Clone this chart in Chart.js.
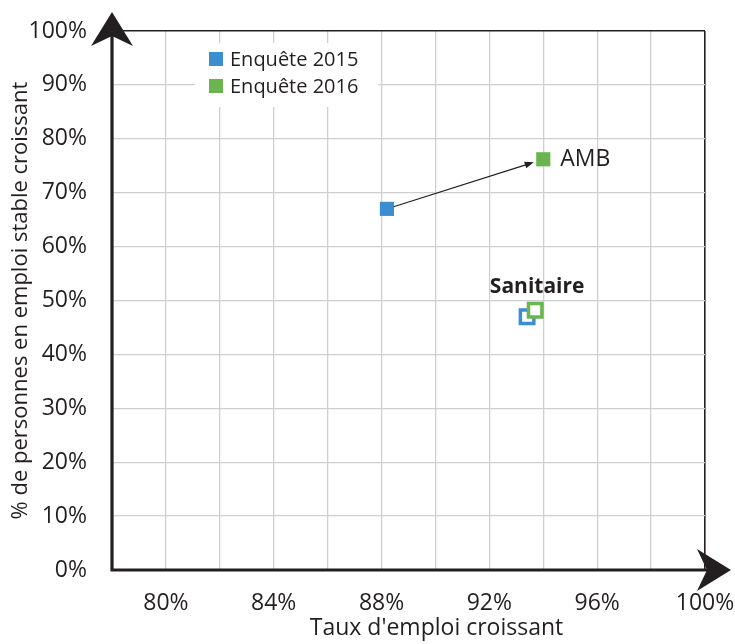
<!DOCTYPE html>
<html>
<head>
<meta charset="utf-8">
<script src="https://cdn.jsdelivr.net/npm/chart.js@4.4.1/dist/chart.umd.min.js"></script>
<style>
  html, body { margin: 0; padding: 0; background: #ffffff; }
  #wrap { width: 735px; height: 644px; position: relative; }
</style>
</head>
<body>
<div id="wrap"><canvas id="scatterChart"></canvas></div>
<script>
// Data
const categories = ['AMB', 'Sanitaire'];
const seriesNames = ['Enquête 2015', 'Enquête 2016'];
const x2015 = [88.2, 93.4];
const y2015 = [67.0, 47.0];
const x2016 = [94.0, 93.7];
const y2016 = [76.2, 48.2];
const hollow = [false, true];
const xTickLabels = [80, 84, 88, 92, 96, 100];

const blue = '#3b8fd1';
const green = '#6ab550';
const ink = '#231f20';
const gridGrey = '#cfcfcf';
const fontFamily = '"Open Sans", sans-serif';

function points(xs, ys) {
    return xs.map(function(x, i) { return { x: x, y: ys[i] }; });
}

function styleFor(color) {
    return {
        backgroundColor: hollow.map(function(h) { return h ? '#ffffff' : color; }),
        borderColor: color,
        borderWidth: hollow.map(function(h) { return h ? 3.5 : 0; }),
        pointRadius: hollow.map(function(h) { return h ? 9.5 : 10; }),
        pointHoverRadius: hollow.map(function(h) { return h ? 9.5 : 10; })
    };
}

// Custom drawing: axes with arrows, legend box, AMB arrow, labels
const decorPlugin = {
    id: 'decor',
    afterDraw: function(chart) {
        const ctx = chart.ctx;
        const xs = chart.scales.x, ys = chart.scales.y;
        const left = chart.chartArea.left, bottom = chart.chartArea.bottom;
        const right = chart.chartArea.right, top = chart.chartArea.top;

        ctx.save();
        // AMB movement arrow
        const p0 = { x: xs.getPixelForValue(x2015[0]), y: ys.getPixelForValue(y2015[0]) };
        const p1 = { x: xs.getPixelForValue(x2016[0]), y: ys.getPixelForValue(y2016[0]) };
        const ang = Math.atan2(p1.y - p0.y, p1.x - p0.x);
        const sx = p0.x + Math.cos(ang) * 7, sy = p0.y + Math.sin(ang) * 7;
        const ex = p1.x - Math.cos(ang) * 10, ey = p1.y - Math.sin(ang) * 10;
        ctx.strokeStyle = ink;
        ctx.fillStyle = ink;
        ctx.lineWidth = 1.2;
        ctx.beginPath();
        ctx.moveTo(sx, sy);
        ctx.lineTo(ex - Math.cos(ang) * 6, ey - Math.sin(ang) * 6);
        ctx.stroke();
        ctx.beginPath();
        ctx.moveTo(ex, ey);
        ctx.lineTo(ex - Math.cos(ang) * 9 + Math.sin(ang) * 3.5, ey - Math.sin(ang) * 9 - Math.cos(ang) * 3.5);
        ctx.lineTo(ex - Math.cos(ang) * 9 - Math.sin(ang) * 3.5, ey - Math.sin(ang) * 9 + Math.cos(ang) * 3.5);
        ctx.closePath();
        ctx.fill();

        // Category labels
        ctx.fillStyle = ink;
        ctx.textBaseline = 'middle';
        ctx.font = '23px ' + fontFamily;
        ctx.textAlign = 'left';
        ctx.fillText(categories[0], p1.x + 17, p1.y);
        const sanX = (xs.getPixelForValue(x2015[1]) + xs.getPixelForValue(x2016[1])) / 2;
        const sanY = ys.getPixelForValue(y2016[1]);
        ctx.font = 'bold 21px ' + fontFamily;
        ctx.textAlign = 'center';
        ctx.fillText(categories[1], sanX + 6, sanY - 23);

        // Legend box inside the plot
        ctx.fillStyle = '#ffffff';
        ctx.fillRect(left + 83, top + 12, 183, 64);
        const colors = [blue, green];
        ctx.font = '20px ' + fontFamily;
        ctx.textAlign = 'left';
        seriesNames.forEach(function(name, i) {
            const cy = top + 28 + i * 27;
            ctx.fillStyle = colors[i];
            ctx.fillRect(left + 97, cy - 7, 14, 14);
            ctx.fillStyle = ink;
            ctx.fillText(name, left + 118, cy + 1);
        });

        // Axes with arrow heads
        ctx.strokeStyle = ink;
        ctx.fillStyle = ink;
        ctx.lineWidth = 3.2;
        ctx.beginPath();
        ctx.moveTo(left, bottom + 1.5);
        ctx.lineTo(left, top - 12);
        ctx.moveTo(left - 1.5, bottom);
        ctx.lineTo(right + 15, bottom);
        ctx.stroke();
        // y arrow
        ctx.beginPath();
        ctx.moveTo(left, top - 19);
        ctx.lineTo(left + 21, top + 15);
        ctx.lineTo(left, top + 5);
        ctx.lineTo(left - 21, top + 15);
        ctx.closePath();
        ctx.fill();
        // x arrow
        ctx.beginPath();
        ctx.moveTo(right + 26, bottom);
        ctx.lineTo(right - 8, bottom - 21);
        ctx.lineTo(right + 2, bottom);
        ctx.lineTo(right - 8, bottom + 21);
        ctx.closePath();
        ctx.fill();

        // x axis title
        ctx.font = '23px ' + fontFamily;
        ctx.textAlign = 'center';
        ctx.textBaseline = 'middle';
        ctx.fillText("Taux d'emploi croissant", (left + right) / 2 + 28, bottom + 58);
        ctx.restore();
    }
};

document.addEventListener('DOMContentLoaded', function() {
    const canvas = document.getElementById('scatterChart');
    new Chart(canvas.getContext('2d'), {
        type: 'scatter',
        data: {
            datasets: [
                Object.assign({ label: seriesNames[0], data: points(x2015, y2015), pointStyle: 'rect', order: 2 }, styleFor(blue)),
                Object.assign({ label: seriesNames[1], data: points(x2016, y2016), pointStyle: 'rect', order: 1 }, styleFor(green))
            ]
        },
        options: {
            responsive: true,
            maintainAspectRatio: false,
            animation: false,
            layout: { autoPadding: false, padding: { top: 31, right: 30, left: 0, bottom: 0 } },
            plugins: {
                legend: { display: false },
                tooltip: { enabled: false }
            },
            scales: {
                x: {
                    type: 'linear',
                    min: 78,
                    max: 100,
                    afterFit: function(scale) {
                        scale.height = 74;
                        scale.paddingLeft = 0;
                        scale.paddingRight = 0;
                    },
                    border: { display: false },
                    grid: {
                        drawTicks: false,
                        color: function(c) { return c.tick && c.tick.value === 100 ? ink : gridGrey; },
                        lineWidth: function(c) { return c.tick && c.tick.value === 100 ? 1.6 : 1.3; }
                    },
                    ticks: {
                        stepSize: 2,
                        autoSkip: false,
                        maxRotation: 0,
                        padding: 20,
                        color: ink,
                        font: { family: fontFamily, size: 23 },
                        callback: function(v) { return xTickLabels.indexOf(v) >= 0 ? v + '%' : ''; }
                    }
                },
                y: {
                    type: 'linear',
                    min: 0,
                    max: 100,
                    afterFit: function(scale) {
                        scale.width = 112;
                        scale.paddingTop = 0;
                        scale.paddingBottom = 0;
                    },
                    border: { display: false },
                    grid: {
                        drawTicks: false,
                        color: function(c) { return c.tick && c.tick.value === 100 ? ink : gridGrey; },
                        lineWidth: function(c) { return c.tick && c.tick.value === 100 ? 1.6 : 1.3; }
                    },
                    ticks: {
                        stepSize: 10,
                        padding: 25,
                        color: ink,
                        font: { family: fontFamily, size: 23 },
                        callback: function(v) { return v + '%'; }
                    },
                    title: {
                        display: true,
                        text: '% de personnes en emploi stable croissant',
                        color: ink,
                        font: { family: fontFamily, size: 22 },
                        padding: { top: 8, bottom: 0 }
                    }
                }
            }
        },
        plugins: [decorPlugin]
    });
});
</script>
</body>
</html>
